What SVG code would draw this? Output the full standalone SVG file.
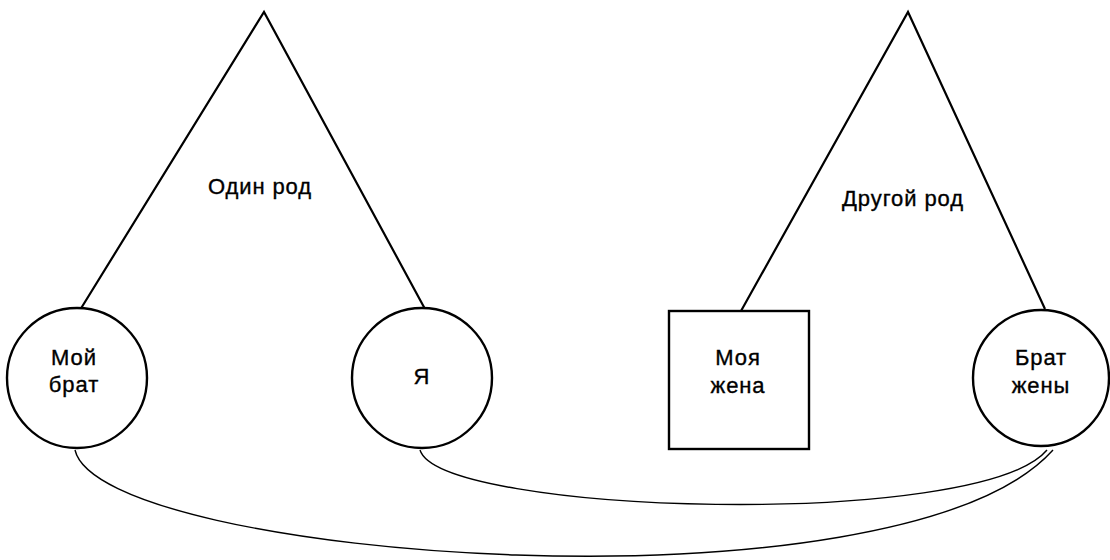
<svg xmlns="http://www.w3.org/2000/svg" width="1110" height="560" viewBox="0 0 1110 560">
<style>
.shape{fill:#fff;stroke:#000;stroke-width:2.4}
.line{fill:none;stroke:#000;stroke-width:2.2}
.conn{fill:none;stroke:#000;stroke-width:1.4}
.t{font-family:"Liberation Sans",Arial,sans-serif;font-size:22px;fill:#000;stroke:#000;stroke-width:0.35;text-anchor:middle;letter-spacing:0.9px}
</style>
<rect width="1110" height="560" fill="#fff"/>
<g id="clan1">
<polyline class="line" points="80,310 264,12 425,309"/>
<text class="t" x="260" y="194">Один род</text>
</g>
<g id="clan2">
<polyline class="line" points="741,311 908,12 1045,309"/>
<text class="t" x="903" y="206">Другой род</text>
</g>
<g id="connectors">
<path class="conn" d="M420 450 C440 515 980 530 1047 450"/>
<path class="conn" d="M75 450 C100 560 900 620 1053 450"/>
</g>
<g id="my-brother">
<circle class="shape" cx="77" cy="378" r="70"/>
<text class="t" x="74" y="365">Мой</text>
<text class="t" x="74" y="392">брат</text>
</g>
<g id="me">
<circle class="shape" cx="422" cy="378" r="70"/>
<text class="t" x="422" y="384">Я</text>
</g>
<g id="my-wife">
<rect class="shape" x="669" y="311" width="140" height="138"/>
<text class="t" x="738" y="365">Моя</text>
<text class="t" x="738" y="393">жена</text>
</g>
<g id="wife-brother">
<circle class="shape" cx="1041" cy="378" r="68"/>
<text class="t" x="1041" y="365">Брат</text>
<text class="t" x="1041" y="393">жены</text>
</g>
</svg>
